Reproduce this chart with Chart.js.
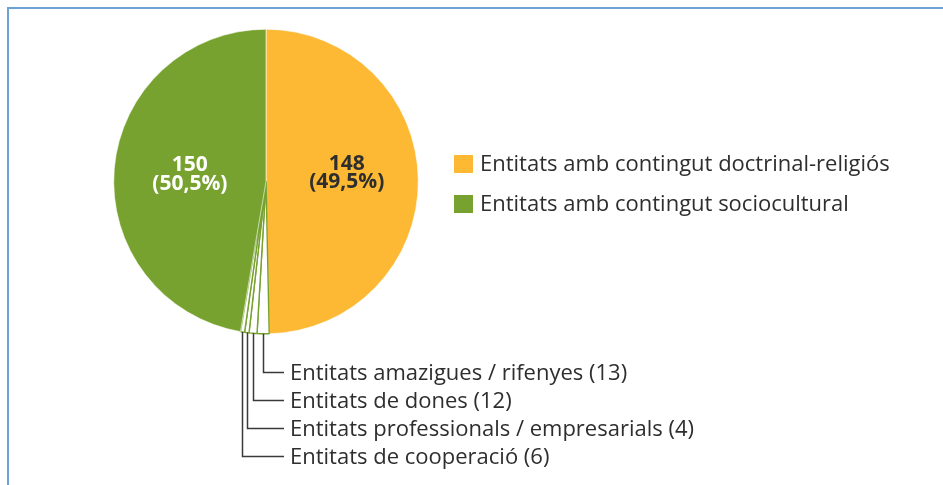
<!DOCTYPE html>
<html><head><meta charset="utf-8">
<script src="https://cdn.jsdelivr.net/npm/chart.js@4"></script>
<style>
html,body{margin:0;padding:0;background:#fff;overflow:hidden}
#wrap{position:relative;width:943px;height:485px}
#frame{position:absolute;left:7px;top:7px;width:960px;height:500px;border-top:2px solid #6ba3d6;border-left:2px solid #6ba3d6;box-sizing:border-box}
canvas{position:absolute;left:0;top:0}
</style></head>
<body><div id="wrap"><div id="frame"></div><canvas id="c" width="943" height="485"></canvas></div>
<script>
// ---- data ----
const categories = ['Entitats amb contingut doctrinal-religiós', 'Entitats amb contingut sociocultural'];
const counts = [148, 150];
const percentLabels = ['49,5%', '50,5%'];
const subCategories = ['Entitats amazigues / rifenyes', 'Entitats de dones', 'Entitats professionals / empresarials', 'Entitats de cooperació'];
const subCounts = [13, 12, 4, 6];
// angular size of each sub-slice as drawn in the picture (in count units)
const subDrawn = [3.8, 2.5, 1.4, 1.3];

const ORANGE = '#fdb933', GREEN = '#78a22f', TEXT = '#2e2e2e';
const subSum = subDrawn.reduce((a, b) => a + b, 0);
const pieData = [counts[0], ...subDrawn, counts[1] - subSum];
const FONT = '"Open Sans", "Noto Sans", sans-serif';

const annot = {
  id: 'annot',
  afterDatasetsDraw(chart) {
    const ctx = chart.ctx;
    const arcs = chart.getDatasetMeta(0).data;
    const cx = arcs[0].x, cy = arcs[0].y, R = arcs[0].outerRadius;
    ctx.save();
    // value labels
    ctx.textAlign = 'center';
    ctx.textBaseline = 'middle';
    ctx.font = 'bold 21px ' + FONT;
    const mainInfo = [
      {a: (arcs[0].startAngle + arcs[0].endAngle) / 2, f: 0.53, col: TEXT, i: 0},
      {a: (arcs[1].startAngle + arcs[5].endAngle) / 2, f: 0.50, col: '#ffffff', i: 1}
    ];
    mainInfo.forEach(m => {
      const x = cx + Math.cos(m.a) * R * m.f;
      const y = cy + Math.sin(m.a) * R * m.f - 8;
      ctx.fillStyle = m.col;
      ctx.fillText(String(counts[m.i]), x, y - 9);
      ctx.fillText('(' + percentLabels[m.i] + ')', x, y + 9.5);
    });
    // leader lines for the sub slices
    ctx.font = '22px ' + FONT;
    ctx.textAlign = 'left';
    ctx.strokeStyle = '#3a3a3a';
    ctx.lineWidth = 1.5;
    for (let i = 0; i < subCategories.length; i++) {
      const arc = arcs[i + 1];
      const a = (arc.startAngle + arc.endAngle) / 2;
      const px = Math.round(cx + Math.cos(a) * R) + 0.5;
      const py = cy + Math.sin(a) * R;
      const ly = Math.round(371.5 + i * 28.2) + 0.5;
      ctx.beginPath();
      ctx.moveTo(px, py);
      ctx.lineTo(px, ly);
      ctx.lineTo(284, ly);
      ctx.stroke();
      ctx.fillStyle = TEXT;
      ctx.fillText(subCategories[i] + ' (' + subCounts[i] + ')', 290, ly + 1);
    }
    // legend
    const legCols = [ORANGE, GREEN];
    ctx.font = '22px ' + FONT;
    categories.forEach((c, i) => {
      const y = 155 + i * 40;
      ctx.fillStyle = legCols[i];
      ctx.fillRect(454, y, 19, 18);
      ctx.fillStyle = TEXT;
      ctx.fillText(c, 480, y + 10);
    });
    ctx.restore();
  }
};

new Chart(document.getElementById('c'), {
  type: 'pie',
  data: {
    labels: [categories[0], ...subCategories, categories[1]],
    datasets: [{
      data: pieData,
      backgroundColor: [ORANGE, '#ffffff', '#ffffff', '#ffffff', '#ffffff', GREEN],
      borderColor: ['#ffffff', GREEN, GREEN, GREEN, GREEN, '#ffffff'],
      borderWidth: [0.6, 1.4, 1.4, 1.4, 1.4, 0.6]
    }]
  },
  options: {
    responsive: false,
    animation: false,
    devicePixelRatio: 1,
    layout: {padding: {left: 113, top: 28.5, right: 524, bottom: 150.5}},
    plugins: {legend: {display: false}, tooltip: {enabled: false}}
  },
  plugins: [annot]
});
</script></body></html>
